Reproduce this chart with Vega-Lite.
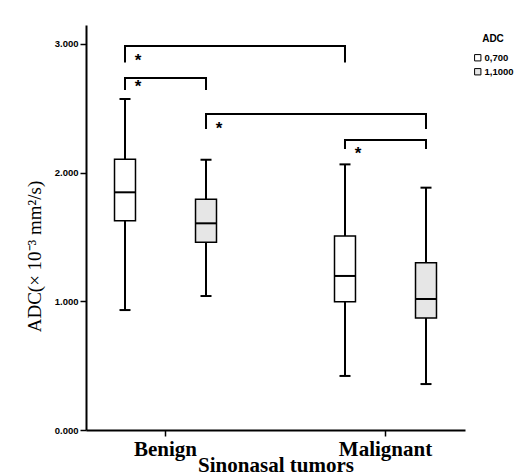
{
  "$schema": "https://vega.github.io/schema/vega-lite/v6.json",
  "width": 379,
  "height": 405,
  "autosize": {"type": "none"},
  "padding": {"left": 86, "top": 25, "right": 49, "bottom": 46},
  "background": "white",
  "config": {
    "view": {"stroke": null},
    "font": "Liberation Sans",
    "axisY": {
      "grid": false,
      "labelFont": "Liberation Sans",
      "labelFontSize": 9.5,
      "labelFontWeight": "bold",
      "labelColor": "black",
      "labelPadding": 2,
      "tickSize": 6,
      "tickWidth": 1.5,
      "tickColor": "black",
      "domainColor": "black",
      "domainWidth": 2,
      "titleFont": "Liberation Serif",
      "titleFontSize": 19,
      "titleFontWeight": "normal",
      "titleColor": "black",
      "titlePadding": 10,
      "titleY": 231
    },
    "axisX": {
      "labelAngle": 0,
      "labelFont": "Liberation Serif",
      "labelFontSize": 21,
      "labelFontWeight": "bold",
      "labelColor": "black",
      "labelPadding": 2,
      "tickSize": 6,
      "tickWidth": 1.5,
      "tickColor": "black",
      "domainColor": "black",
      "domainWidth": 2,
      "titleFont": "Liberation Serif",
      "titleFontSize": 21,
      "titleFontWeight": "bold",
      "titleColor": "black",
      "titlePadding": -5
    }
  },
  "datasets": {
    "boxes": [
      {"group": "Benign", "series": "0,700", "min": 0.932, "q1": 1.626, "median": 1.847, "q3": 2.103, "max": 2.572},
      {"group": "Benign", "series": "1,1000", "min": 1.041, "q1": 1.458, "median": 1.606, "q3": 1.793, "max": 2.100},
      {"group": "Malignant", "series": "0,700", "min": 0.420, "q1": 0.997, "median": 1.197, "q3": 1.507, "max": 2.064},
      {"group": "Malignant", "series": "1,1000", "min": 0.357, "q1": 0.870, "median": 1.018, "q3": 1.300, "max": 1.883}
    ],
    "brackets": [
      {"bracket": 1, "order": 1, "group": "Benign", "series": "0,700", "adc": 2.856},
      {"bracket": 1, "order": 2, "group": "Benign", "series": "0,700", "adc": 2.984},
      {"bracket": 1, "order": 3, "group": "Malignant", "series": "0,700", "adc": 2.984},
      {"bracket": 1, "order": 4, "group": "Malignant", "series": "0,700", "adc": 2.856},
      {"bracket": 2, "order": 1, "group": "Benign", "series": "0,700", "adc": 2.642},
      {"bracket": 2, "order": 2, "group": "Benign", "series": "0,700", "adc": 2.735},
      {"bracket": 2, "order": 3, "group": "Benign", "series": "1,1000", "adc": 2.735},
      {"bracket": 2, "order": 4, "group": "Benign", "series": "1,1000", "adc": 2.642},
      {"bracket": 3, "order": 1, "group": "Benign", "series": "1,1000", "adc": 2.339},
      {"bracket": 3, "order": 2, "group": "Benign", "series": "1,1000", "adc": 2.455},
      {"bracket": 3, "order": 3, "group": "Malignant", "series": "1,1000", "adc": 2.455},
      {"bracket": 3, "order": 4, "group": "Malignant", "series": "1,1000", "adc": 2.339},
      {"bracket": 4, "order": 1, "group": "Malignant", "series": "0,700", "adc": 2.183},
      {"bracket": 4, "order": 2, "group": "Malignant", "series": "0,700", "adc": 2.253},
      {"bracket": 4, "order": 3, "group": "Malignant", "series": "1,1000", "adc": 2.253},
      {"bracket": 4, "order": 4, "group": "Malignant", "series": "1,1000", "adc": 2.183}
    ],
    "stars": [
      {"group": "Benign", "series": "0,700", "adc": 2.898, "label": "*"},
      {"group": "Benign", "series": "0,700", "adc": 2.696, "label": "*"},
      {"group": "Benign", "series": "1,1000", "adc": 2.370, "label": "*"},
      {"group": "Malignant", "series": "0,700", "adc": 2.176, "label": "*"}
    ]
  },
  "encoding": {
    "x": {
      "field": "group",
      "type": "nominal",
      "title": "Sinonasal tumors",
      "scale": {"domain": ["Benign", "Malignant"], "paddingInner": 0.3, "paddingOuter": 0.0114}
    },
    "xOffset": {
      "field": "series",
      "type": "nominal",
      "scale": {"domain": ["0,700", "1,1000"], "paddingInner": 0.741, "paddingOuter": 0.321}
    }
  },
  "layer": [
    {
      "data": {"name": "boxes"},
      "mark": {"type": "rule", "strokeWidth": 2, "color": "black"},
      "encoding": {
        "y": {"field": "min", "type": "quantitative", "title": "ADC(× 10⁻³ mm²/s)", "axis": {"values": [0, 1, 2, 3], "format": ".3f"}, "scale": {"domain": [0, 3.147], "nice": false, "zero": false}},
        "y2": {"field": "max"}
      }
    },
    {
      "data": {"name": "boxes"},
      "mark": {"type": "tick", "size": 11, "thickness": 2, "color": "black", "opacity": 1},
      "encoding": {
        "y": {"field": "min", "type": "quantitative", "title": "ADC(× 10⁻³ mm²/s)", "axis": {"values": [0, 1, 2, 3], "format": ".3f"}, "scale": {"domain": [0, 3.147], "nice": false, "zero": false}}
      }
    },
    {
      "data": {"name": "boxes"},
      "mark": {"type": "tick", "size": 11, "thickness": 2, "color": "black", "opacity": 1},
      "encoding": {
        "y": {"field": "max", "type": "quantitative", "title": "ADC(× 10⁻³ mm²/s)", "axis": {"values": [0, 1, 2, 3], "format": ".3f"}, "scale": {"domain": [0, 3.147], "nice": false, "zero": false}}
      }
    },
    {
      "data": {"name": "boxes"},
      "mark": {"type": "bar", "stroke": "black", "strokeWidth": 1.5, "opacity": 1},
      "encoding": {
        "y": {"field": "q1", "type": "quantitative", "title": "ADC(× 10⁻³ mm²/s)", "axis": {"values": [0, 1, 2, 3], "format": ".3f"}, "scale": {"domain": [0, 3.147], "nice": false, "zero": false}},
        "y2": {"field": "q3"},
        "fill": {
          "field": "series",
          "type": "nominal",
          "scale": {"domain": ["0,700", "1,1000"], "range": ["#ffffff", "#e6e6e6"]},
          "legend": {
            "title": "ADC",
            "orient": "none",
            "legendX": 387,
            "legendY": 9,
            "symbolType": "square",
            "symbolSize": 40,
            "symbolStrokeColor": "black",
            "symbolStrokeWidth": 1,
            "symbolOpacity": 1,
            "labelFont": "Liberation Sans",
            "labelFontSize": 9.5,
            "labelFontWeight": "bold",
            "labelColor": "black",
            "labelOffset": 2,
            "rowPadding": 3,
            "titleFont": "Liberation Sans",
            "titleFontSize": 10,
            "titleFontWeight": "bold",
            "titleColor": "black",
            "titlePadding": 9,
            "titleAnchor": "middle"
          }
        }
      }
    },
    {
      "data": {"name": "boxes"},
      "mark": {"type": "tick", "size": 21, "thickness": 2, "color": "black", "opacity": 1},
      "encoding": {
        "y": {"field": "median", "type": "quantitative", "title": "ADC(× 10⁻³ mm²/s)", "axis": {"values": [0, 1, 2, 3], "format": ".3f"}, "scale": {"domain": [0, 3.147], "nice": false, "zero": false}}
      }
    },
    {
      "data": {"name": "brackets"},
      "mark": {"type": "line", "strokeWidth": 2, "color": "black", "interpolate": "linear"},
      "encoding": {
        "y": {"field": "adc", "type": "quantitative", "title": "ADC(× 10⁻³ mm²/s)", "axis": {"values": [0, 1, 2, 3], "format": ".3f"}, "scale": {"domain": [0, 3.147], "nice": false, "zero": false}},
        "detail": {"field": "bracket", "type": "nominal"},
        "order": {"field": "order", "type": "quantitative"}
      }
    },
    {
      "data": {"name": "stars"},
      "mark": {"type": "text", "font": "Liberation Sans", "fontSize": 17, "fontWeight": "bold", "color": "black", "dx": 13, "dy": 9, "baseline": "alphabetic", "align": "center"},
      "encoding": {
        "y": {"field": "adc", "type": "quantitative", "title": "ADC(× 10⁻³ mm²/s)", "axis": {"values": [0, 1, 2, 3], "format": ".3f"}, "scale": {"domain": [0, 3.147], "nice": false, "zero": false}},
        "text": {"field": "label", "type": "nominal"}
      }
    }
  ]
}
